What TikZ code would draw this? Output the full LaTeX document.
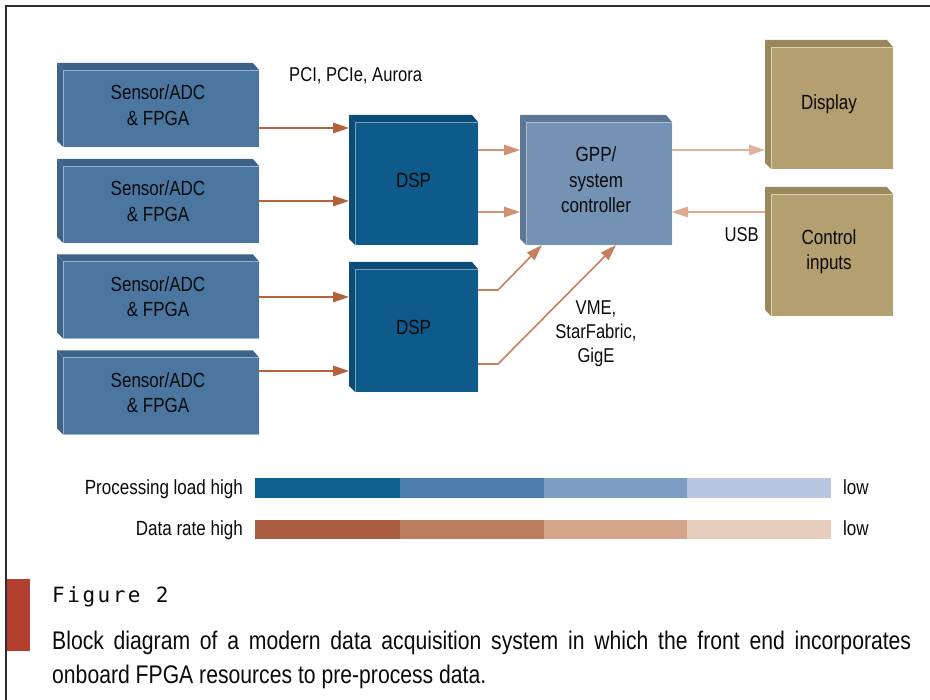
\documentclass[tikz,border=0pt]{standalone}
\usepackage{fontspec}
\setmainfont{Liberation Sans}[FakeStretch=0.83]
\newfontfamily\figfont{DejaVu Sans Mono}[LetterSpace=12]
\usetikzlibrary{arrows.meta,calc}

\definecolor{txt}{RGB}{10,10,10}
\definecolor{frame}{RGB}{45,45,45}
\definecolor{redbar}{RGB}{178,62,45}
\definecolor{senF}{RGB}{74,118,160}
\definecolor{senB}{RGB}{62,98,136}
\definecolor{senE}{RGB}{150,180,205}
\definecolor{dspF}{RGB}{14,90,138}
\definecolor{dspB}{RGB}{10,76,118}
\definecolor{dspE}{RGB}{120,160,190}
\definecolor{gppF}{RGB}{115,146,180}
\definecolor{gppB}{RGB}{92,118,148}
\definecolor{gppE}{RGB}{170,190,210}
\definecolor{tanF}{RGB}{179,159,111}
\definecolor{tanB}{RGB}{152,136,92}
\definecolor{tanE}{RGB}{222,208,172}
\definecolor{arrA}{RGB}{180,98,60}
\definecolor{arrB}{RGB}{208,146,117}
\definecolor{arrC}{RGB}{198,128,94}
\definecolor{arrD}{RGB}{226,178,158}
\definecolor{arrE}{RGB}{222,168,145}
\definecolor{pla}{RGB}{16,96,143}
\definecolor{plb}{RGB}{74,125,170}
\definecolor{plc}{RGB}{126,157,196}
\definecolor{pld}{RGB}{184,199,223}
\definecolor{dra}{RGB}{169,94,64}
\definecolor{drb}{RGB}{189,125,95}
\definecolor{drc}{RGB}{211,164,137}
\definecolor{drd}{RGB}{231,205,188}

\begin{document}
\begin{tikzpicture}[x=1pt,y=-1pt,
  box3d/.style n args={3}{fill=white, draw=none, inner sep=0pt, outer sep=0pt,
    align=center, text=txt, font=\fontsize{20.5}{25.5}\selectfont,
    path picture={
      \coordinate (NW) at (path picture bounding box.north west);
      \coordinate (NE) at (path picture bounding box.north east);
      \coordinate (SW) at (path picture bounding box.south west);
      \coordinate (SE) at (path picture bounding box.south east);
      \fill[#2] (NW) -- ($(NE)+(-6,0)$) -- ($(NE)+(0,7)$) -- ($(NW)+(6,7)$) -- cycle;
      \fill[#2] (NW) -- ($(NW)+(6,7)$) -- ($(SW)+(6,0)$) -- ($(SW)+(0,-6)$) -- cycle;
      \fill[#1] ($(NW)+(6,7)$) rectangle (SE);
      \draw[#3, line width=0.9pt] ($(NW)+(6,7)$) rectangle (SE);
    }},
  sensorbox/.style={box3d={senF}{senB}{senE}, minimum width=202pt, minimum height=84pt},
  dspbox/.style={box3d={dspF}{dspB}{dspE}, minimum width=129pt, minimum height=130pt},
  gppbox/.style={box3d={gppF}{gppB}{gppE}, minimum width=152pt, minimum height=130pt},
  tanbox/.style={box3d={tanF}{tanB}{tanE}, minimum width=128pt, minimum height=129pt},
  conn/.style={line width=1.6pt, -{Triangle[length=16pt,width=10.5pt]}},
  lbl/.style={text=txt, font=\fontsize{20}{24}\selectfont, inner sep=0pt},
  leg/.style={text=txt, font=\fontsize{20.5}{24}\selectfont, inner sep=0pt},
  bar/.style={inner sep=0pt, outer sep=0pt, minimum height=19.5pt, anchor=west}
]
\useasboundingbox (0,0) rectangle (930,700);

% frame
\draw[frame, line width=1.5pt] (6,700) -- (6,6) -- (930,6);

% sensor boxes
\node[sensorbox] (s1) at (158,105) {Sensor/ADC\\\& FPGA};
\node[sensorbox] (s2) at (158,201) {Sensor/ADC\\\& FPGA};
\node[sensorbox] (s3) at (158,296.5) {Sensor/ADC\\\& FPGA};
\node[sensorbox] (s4) at (158,392.5) {Sensor/ADC\\\& FPGA};

% DSPs
\node[dspbox] (d1) at (413.5,180) {DSP};
\node[dspbox] (d2) at (413.5,327) {DSP};

% GPP
\node[gppbox] (g) at (596,180) {GPP/\\system\\controller};

% Display, control
\node[tanbox] (disp) at (829,104.5) {Display};
\node[tanbox] (ctrl) at (829,251.5) {Control\\inputs};

% connectors
\draw[conn, arrA] (s1.east |- 0,128) -- (d1.west |- 0,128);
\draw[conn, arrA] (s2.east |- 0,201) -- (d1.west |- 0,201);
\draw[conn, arrA] (s3.east |- 0,297) -- (d2.west |- 0,297);
\draw[conn, arrA] (s4.east |- 0,371) -- (d2.west |- 0,371);

\draw[conn, arrB] (d1.east |- 0,150) -- (g.west |- 0,150);
\draw[conn, arrB] (d1.east |- 0,212) -- (g.west |- 0,212);

\draw[conn, arrC] (d2.east |- 0,290) -- ++(20,0) -- ($(g.south west)+(22,0)$);
\draw[conn, arrC] (d2.east |- 0,364) -- ++(20,0) -- ($(g.south west)+(96,0)$);

\draw[conn, arrD] (g.east |- 0,150) -- (disp.west |- 0,150);
\draw[conn, arrE] (ctrl.west |- 0,212) -- (g.east |- 0,212);

% connector labels
\node[lbl, anchor=base west] (pci) at (289,82) {PCI, PCIe, Aurora};
\node[lbl, anchor=base east] (usb) at (759,242) {USB};
\node[lbl, align=center] (vme) at (596,334) {VME,\\StarFabric,\\GigE};

% legend
\node[leg, anchor=base east] (plt) at (243,494.5) {Processing load high};
\node[leg, anchor=base east] (drt) at (243,535.5) {Data rate high};
\node[leg, anchor=base west] (pll) at (843,494.5) {low};
\node[leg, anchor=base west] (drl) at (843,535.5) {low};

\node[bar, fill=pla, minimum width=145pt] (p1) at (255,488) {};
\node[bar, fill=plb, minimum width=144pt] (p2) at (400,488) {};
\node[bar, fill=plc, minimum width=143pt] (p3) at (544,488) {};
\node[bar, fill=pld, minimum width=144pt] (p4) at (687,488) {};
\node[bar, fill=dra, minimum width=145pt] (r1) at (255,529.5) {};
\node[bar, fill=drb, minimum width=144pt] (r2) at (400,529.5) {};
\node[bar, fill=drc, minimum width=143pt] (r3) at (544,529.5) {};
\node[bar, fill=drd, minimum width=144pt] (r4) at (687,529.5) {};

% caption
\fill[redbar] (6.75,579) rectangle (30,651);
\node[anchor=base west, inner sep=0pt, text=txt, font=\figfont\fontsize{21}{24}\selectfont] (fig) at (52,602) {Figure 2};
\node[anchor=base west, inner sep=0pt, text=txt, text width=859pt, align=justify,
      font=\fontsize{25.5}{34}\selectfont] (cap) at (52,649)
  {Block diagram of a modern data acquisition system in which the front end incorporates\linebreak onboard FPGA resources to pre-process data.};
\end{tikzpicture}
\end{document}
